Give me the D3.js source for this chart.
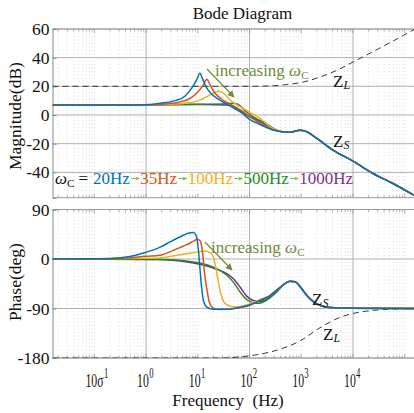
<!DOCTYPE html>
<html><head><meta charset="utf-8">
<script src="https://cdn.jsdelivr.net/npm/d3@7"></script>
<style>
html,body{margin:0;padding:0;background:#fff;}
svg{display:block;font-family:"Liberation Serif","Times New Roman",serif;}
</style></head>
<body><svg id="chart" width="414" height="413"></svg>
<script>
// ---- data: [frequency (Hz), value] readings ----
const seriesNames = ["20Hz", "35Hz", "100Hz", "500Hz", "1000Hz"];
const seriesColors = ["#0072BD", "#D95319", "#EDB120", "#238B23", "#7E2F8E"];

// magnitude of Z_S (dB) for each omega_C
const mag20 = [[0.0155,7.0],[0.8,7.0],[1.9,8.2],[3.6,10.0],[5.7,13.3],[7.6,18.7],[9.5,24.5],[11,29.2],[12.2,25.7],[14.9,18.7],[18.6,14.5],[25,11.0],[39,7.0],[70,1.6],[100,-3.0],[180,-7.5],[270,-10.3],[420,-11.7]];
const mag35 = [[0.0155,7.0],[1.2,7.0],[2.3,7.7],[4.5,9.1],[6.6,11.0],[9.5,15.2],[12.8,21],[14.9,25],[17.3,21],[21.5,15.2],[29,11],[45,7],[70,3.0],[100,-1.0],[180,-7.0],[270,-10.0],[420,-11.7]];
const mag100 = [[0.0155,7.0],[1.2,7.0],[2.9,7.5],[5.7,8.2],[10.3,10],[16,13.3],[21.5,15.9],[25,16.6],[31,15.2],[39,11.7],[48.6,8.6],[65.5,5.8],[110,1.2],[175,-3.5],[270,-9.0],[420,-11.6]];
const mag500 = [[0.0155,7.0],[1.2,7.1],[11,7.5],[36,7.9],[48,8.2],[60,7.3],[88,2.1],[128,-2.1],[200,-5.5],[290,-9.3],[420,-11.6]];
const mag1000 = [[0.0155,7.0],[1.2,7.1],[11,7.3],[36,7.0],[52,5.4],[88,0],[128,-3.0],[200,-6.5],[290,-10],[420,-11.7]];
const magTail = [[600,-12.1],[950,-10.6],[1180,-11.2],[2000,-16.3],[4100,-24.5],[10000,-32.2],[24400,-40.8],[59300,-47.8],[151000,-56]];

// phase of Z_S (deg) for each omega_C
const ph20 = [[0.0155,0],[0.2,1],[0.49,4.5],[0.96,11.8],[1.87,21.6],[2.9,31],[4.5,40],[6.5,46.8],[8.1,48],[9.25,43],[10.2,18.7],[11,-17.7],[11.9,-54],[12.8,-75],[14.9,-87.4],[20,-91.5],[36,-91.3],[65,-88],[102,-83.5],[160,-75.5],[250,-66.5],[336,-56.5]];
const ph35 = [[0.0155,0],[0.2,0.5],[0.49,2],[0.96,5],[1.87,7],[3.37,15.7],[6.1,26],[8.2,32.4],[9.8,35.8],[11,33.4],[12.5,6.9],[13.4,-23.6],[14.9,-54],[16.7,-78.6],[20,-89.4],[25,-91.8],[36,-91.5],[65,-88],[102,-83.5],[160,-75.5],[250,-66.5],[336,-56.5]];
const ph100 = [[0.0155,0],[0.49,1],[1.87,2],[4.5,7.9],[8.2,11.5],[12.8,14],[14.9,14],[17.3,11.5],[20,3.6],[22.5,-17.7],[25,-42],[27.8,-63.2],[32.1,-78.6],[39,-84.5],[50,-87],[65,-86.5],[88,-83.5],[118,-79],[160,-73.6],[250,-65.8],[336,-56.5]];
const ph500 = [[0.0155,0],[1.87,-1],[4.5,-2.4],[8.2,-5.4],[14.9,-10.3],[23.2,-17.7],[36.3,-29.5],[48.6,-42],[65.5,-60],[88,-73.6],[118,-79.5],[148,-80.5],[215,-74.6],[310,-62]];
const ph1000 = [[0.0155,0],[1.87,-1],[4.5,-3.6],[8.2,-7.3],[14.9,-12.8],[23.2,-18.7],[36.3,-26.5],[48.6,-35.8],[65.5,-51],[88,-67.5],[118,-75.6],[160,-77.6],[215,-73.6],[310,-63]];
const phTail = [[450,-47],[603,-40.3],[756,-41.2],[946,-50],[1270,-65.8],[1710,-77.6],[2480,-85.4],[3590,-88.4],[8770,-89.6],[151000,-90]];

// Z_L (dashed)
const zlMag = [[0.0155,20],[100,20],[250,20.3],[490,21.2],[946,22.5],[2300,26.5],[5600,32.2],[10000,37],[24400,44.2],[59300,51.6],[151000,59.6]];
const zlPhase = [[0.0155,-180],[27,-180],[65,-178],[160,-173],[390,-164],[946,-149],[2300,-125],[5610,-106],[10000,-99],[21300,-94],[51900,-91.5],[151000,-90.5]];

// tick values
const magTicks = [60, 40, 20, 0, -20, -40];
const phaseTicks = [90, 0, -90, -180];
const freqTickExps = [-1, 0, 1, 2, 3, 4];

const magSeries = [mag20, mag35, mag100, mag500, mag1000].map(s => s.concat(magTail));
const phaseSeries = [ph20, ph35, ph100, ph500, ph1000].map(s => s.concat(phTail));

// ---- layout ----
const svg = d3.select("#chart");
const left = 52.5, right = 414;
const x = d3.scaleLog().domain([0.0155, 151000]).range([left, right]);
const yMag = d3.scaleLinear().domain([-57.7, 60]).range([197.7, 29]);
const yPh = d3.scaleLinear().domain([-180, 90]).range([358, 209.5]);

// gridline frequencies
const gridFreqs = [];
for (let n = -2; n <= 5; n++) for (let k = 1; k <= 9; k++) {
  const v = k * Math.pow(10, n);
  if (v > 0.0155 && v < 151000) gridFreqs.push({v, major: k === 1 && n % 2 === 0, decade: k === 1});
}

function panel(y, ticks, id) {
  const g = svg.append("g");
  const [y0, y1] = [y.range()[1], y.range()[0]];
  g.append("clipPath").attr("id", id).append("rect")
    .attr("x", left).attr("y", y0).attr("width", right - left).attr("height", y1 - y0);
  // vertical grid
  g.selectAll("line.vg").data(gridFreqs).join("line")
    .attr("x1", d => x(d.v)).attr("x2", d => x(d.v)).attr("y1", y0).attr("y2", y1)
    .attr("stroke", d => d.major ? "#a8a8a8" : "#d4d4d4")
    .attr("stroke-width", d => d.major ? 0.9 : 0.8)
    .attr("stroke-dasharray", d => d.major ? null : "1,2.5");
  // horizontal grid
  g.selectAll("line.hg").data(ticks).join("line")
    .attr("x1", left).attr("x2", right).attr("y1", d => y(d)).attr("y2", d => y(d))
    .attr("stroke", "#a8a8a8").attr("stroke-width", 0.9);
  // ticks on top and bottom edges
  [y0, y1].forEach((yy, i) => {
    const dir = i === 0 ? 1 : -1;
    g.selectAll(null).data(gridFreqs).join("line")
      .attr("x1", d => x(d.v)).attr("x2", d => x(d.v))
      .attr("y1", yy).attr("y2", d => yy + dir * (d.decade ? 4 : 2.5))
      .attr("stroke", "#8a8a8a").attr("stroke-width", 0.7);
  });
  // frame
  g.append("line").attr("x1", left).attr("x2", right).attr("y1", y0).attr("y2", y0).attr("stroke", "#999");
  g.append("line").attr("x1", left).attr("x2", right).attr("y1", y1).attr("y2", y1).attr("stroke", "#999");
  // left axis with labels
  const ax = g.append("g").attr("transform", `translate(${left},0)`)
    .call(d3.axisLeft(y).tickValues(ticks).tickSize(-4).tickPadding(3).tickFormat(d3.format("d")));
  ax.select(".domain").attr("stroke", "#888");
  ax.selectAll(".tick line").attr("stroke", "#888");
  ax.selectAll(".tick text").attr("font-size", 17.5).attr("fill", "#111")
    .attr("font-family", "Liberation Serif").text(d => d < 0 ? "-" + Math.abs(d) : d);
  return g;
}

const magPanel = panel(yMag, magTicks, "clipMag");
const phPanel = panel(yPh, phaseTicks, "clipPh");

const lineMag = d3.line().x(d => x(d[0])).y(d => yMag(d[1])).curve(d3.curveMonotoneX);
const linePh = d3.line().x(d => x(d[0])).y(d => yPh(d[1])).curve(d3.curveMonotoneX);

const curvesTop = magPanel.append("g").attr("clip-path", "url(#clipMag)");
const curvesBot = phPanel.append("g").attr("clip-path", "url(#clipPh)");

curvesTop.append("path").attr("d", lineMag(zlMag)).attr("fill", "none")
  .attr("stroke", "#3a3a3a").attr("stroke-width", 1).attr("stroke-dasharray", "6,4");
curvesBot.append("path").attr("d", linePh(zlPhase)).attr("fill", "none")
  .attr("stroke", "#3a3a3a").attr("stroke-width", 1).attr("stroke-dasharray", "6,4");

// draw higher omega_C first so the 20Hz curve sits on top
d3.range(4, -1, -1).forEach(i => {
  curvesTop.append("path").attr("d", lineMag(magSeries[i])).attr("fill", "none")
    .attr("stroke", seriesColors[i]).attr("stroke-width", 1.5);
  curvesBot.append("path").attr("d", linePh(phaseSeries[i])).attr("fill", "none")
    .attr("stroke", seriesColors[i]).attr("stroke-width", 1.5);
});

// ---- x tick labels (10^n) ----
const xl = svg.append("g");
freqTickExps.forEach(e => {
  const g = xl.append("g").attr("transform", `translate(${x(Math.pow(10, e)) - 9},386.5) scale(0.62,1)`);
  g.append("text").attr("font-size", 19).attr("fill", "#111").text("10");
  if (e < 0) {
    g.append("text").attr("x", 19).attr("font-size", 19).attr("fill", "#111").text("σ");
    g.append("text").attr("x", 30).attr("y", -8.5).attr("font-size", 14).attr("fill", "#111").text(String(-e));
  } else {
    g.append("text").attr("x", 19.5).attr("y", -8.5).attr("font-size", 14).attr("fill", "#111").text(String(e));
  }
});

// ---- titles ----
svg.append("text").attr("x", 242.5).attr("y", 19).attr("text-anchor", "middle")
  .attr("font-size", 17).attr("fill", "#111").text("Bode Diagram");
svg.append("text").attr("x", 228).attr("y", 406).attr("text-anchor", "middle")
  .attr("font-size", 17).attr("fill", "#111").attr("xml:space", "preserve").text("Frequency  (Hz)");
svg.append("text").attr("transform", "translate(21,116) rotate(-90)").attr("text-anchor", "middle")
  .attr("font-size", 17.5).attr("fill", "#111").text("Magnitude(dB)");
svg.append("text").attr("transform", "translate(21,282) rotate(-90)").attr("text-anchor", "middle")
  .attr("font-size", 17.5).attr("fill", "#111").text("Phase(deg)");

// ---- annotations ----
const olive = "#6F8C3C";
const defs = svg.append("defs");
defs.append("marker").attr("id", "ah").attr("viewBox", "0 0 10 10")
  .attr("refX", 9).attr("refY", 5).attr("markerWidth", 7).attr("markerHeight", 7)
  .attr("markerUnits", "userSpaceOnUse").attr("orient", "auto")
  .append("path").attr("d", "M0,0 L10,5 L0,10 z").attr("fill", olive);
defs.append("marker").attr("id", "ahs").attr("viewBox", "0 0 10 10")
  .attr("refX", 9).attr("refY", 5).attr("markerWidth", 4).attr("markerHeight", 4)
  .attr("markerUnits", "userSpaceOnUse").attr("orient", "auto")
  .append("path").attr("d", "M0,0 L10,5 L0,10 z").attr("fill", "#86BC4A");

function increasing(x0, y0) {
  const t = svg.append("text").attr("x", x0).attr("y", y0).attr("font-size", 17).attr("fill", olive);
  t.append("tspan").text("increasing ");
  t.append("tspan").attr("font-style", "italic").text("ω");
  t.append("tspan").attr("font-size", 11).attr("dy", 3).text("C");
}
increasing(215, 76);
increasing(211, 253);
svg.append("line").attr("x1", 207).attr("y1", 69).attr("x2", 234).attr("y2", 97)
  .attr("stroke", olive).attr("stroke-width", 1.2).attr("marker-end", "url(#ah)");
svg.append("line").attr("x1", 205).attr("y1", 242).attr("x2", 232).attr("y2", 270)
  .attr("stroke", olive).attr("stroke-width", 1.2).attr("marker-end", "url(#ah)");

function zLabel(x0, y0, sub) {
  const t = svg.append("text").attr("x", x0).attr("y", y0).attr("font-size", 17).attr("fill", "#111");
  t.append("tspan").text("Z");
  t.append("tspan").attr("font-size", 12).attr("font-style", "italic").attr("dy", 2).text(sub);
}
zLabel(333, 87, "L");
zLabel(333, 147, "S");
zLabel(312, 305, "S");
zLabel(323, 340, "L");

// ---- omega_C legend line ----
const legY = 184;
let cx = 55;
const lt = svg.append("text").attr("x", cx).attr("y", legY).attr("font-size", 17).attr("fill", "#111");
lt.append("tspan").attr("font-style", "italic").text("ω");
lt.append("tspan").attr("font-size", 11).attr("dy", 3).text("C");
lt.append("tspan").attr("dy", -3).text(" = ");
cx = 93;
seriesNames.forEach((name, i) => {
  const t = svg.append("text").attr("x", cx).attr("y", legY).attr("font-size", 17)
    .attr("fill", seriesColors[i]).text(name);
  cx += t.node().getComputedTextLength();
  if (i < seriesNames.length - 1) {
    svg.append("line").attr("x1", cx + 1.5).attr("x2", cx + 9.5).attr("y1", legY - 5.5).attr("y2", legY - 5.5)
      .attr("stroke", "#86BC4A").attr("stroke-width", 1).attr("marker-end", "url(#ahs)");
    cx += 10.5;
  }
});
</script>
</body></html>
